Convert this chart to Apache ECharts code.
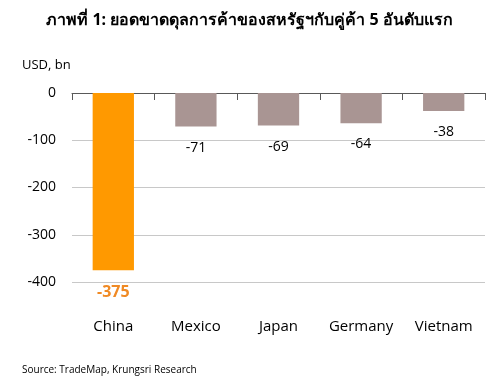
<!DOCTYPE html>
<html><head><meta charset="utf-8">
<script src="https://cdn.jsdelivr.net/npm/echarts@6/dist/echarts.min.js"></script>
<style>html,body{margin:0;padding:0;background:#fff}#c{width:499px;height:383px}</style>
</head><body><div id="c"></div>
<script>
var categories = ['China', 'Mexico', 'Japan', 'Germany', 'Vietnam'];
var values = [-375, -71, -69, -64, -38];
var yTicks = [0, -100, -200, -300, -400];
var titleText = 'ภาพที่ 1: ยอดขาดดุลการค้าของสหรัฐฯกับคู่ค้า 5 อันดับแรก';
var unitText = 'USD, bn';
var sourceText = 'Source: TradeMap, Krungsri Research';

var font = '"Open Sans", "Noto Sans", sans-serif';
var chart = echarts.init(document.getElementById('c'));
chart.setOption({
  animation: false,
  title: [
    {text: titleText, left: 'center', top: 7, textStyle: {fontFamily: '"Noto Sans", sans-serif', fontSize: 16, fontWeight: 'bold', color: '#000'}},
    {text: unitText, left: 17, top: 54, textStyle: {fontFamily: font, fontSize: 13, fontWeight: 'normal', color: '#000'}},
    {text: sourceText, left: 17, top: 360, textStyle: {fontFamily: font, fontSize: 10, fontWeight: 'normal', color: '#000'}}
  ],
  grid: {left: 72, right: 14, top: 93, bottom: 101},
  xAxis: [
    {
      type: 'category', data: categories, position: 'top',
      axisLine: {show: true, onZero: false, lineStyle: {color: '#595959', width: 1}},
      axisTick: {show: true, inside: true, length: 7, lineStyle: {color: '#595959'}},
      axisLabel: {show: false}
    },
    {
      type: 'category', data: categories, position: 'bottom',
      axisLine: {show: false, onZero: false}, axisTick: {show: false},
      axisLabel: {show: true, interval: 0, fontFamily: font, fontSize: 15, color: '#000', margin: 37, hideOverlap: false}
    }
  ],
  yAxis: {
    type: 'value', min: yTicks[yTicks.length - 1], max: yTicks[0], interval: 100,
    axisLine: {show: false}, axisTick: {show: false},
    axisLabel: {fontFamily: font, fontSize: 14, color: '#000', margin: 16},
    splitLine: {lineStyle: {color: '#c8c8c8', width: 1}}
  },
  series: [
    {
      type: 'bar', xAxisIndex: 0, data: values.map(function (v, i) {
        return i === 0 ? {value: v, itemStyle: {color: '#ff9900'},
          label: {color: '#f08a24', fontWeight: 'bold', fontSize: 16}} : v;
      }),
      barWidth: '50%',
      itemStyle: {color: '#a99593'},
      label: {show: true, position: 'bottom', distance: 14, fontFamily: font, fontSize: 14, color: '#000'}
    }
  ]
});
</script></body></html>
